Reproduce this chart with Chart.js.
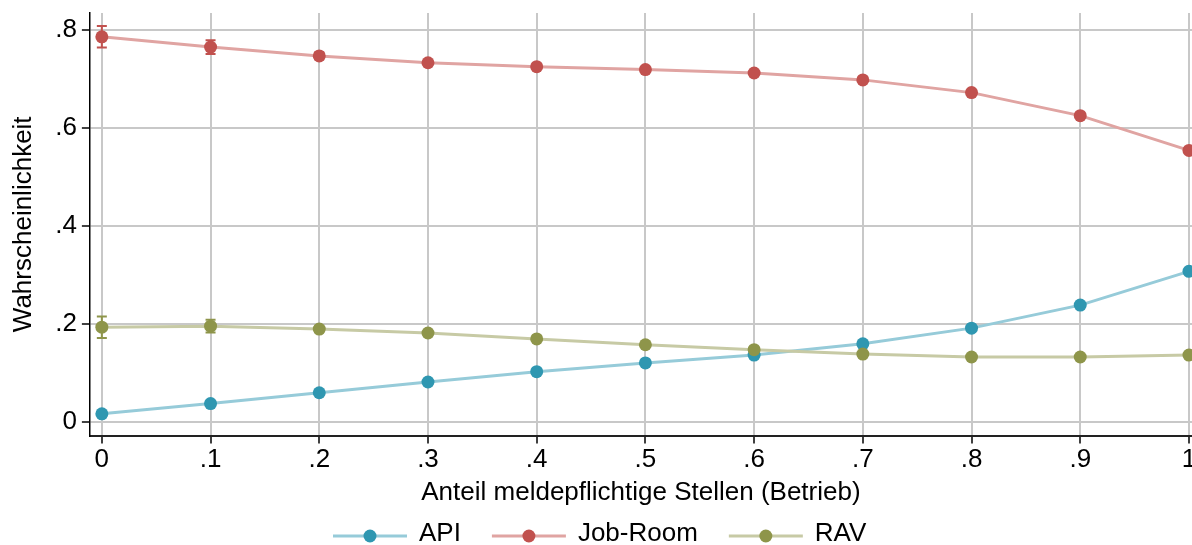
<!DOCTYPE html>
<html>
<head>
<meta charset="utf-8">
<script src="https://cdn.jsdelivr.net/npm/chart.js@4/dist/chart.umd.min.js"></script>
<style>
  html, body { margin: 0; padding: 0; background: #fff; }
  #wrap { width: 1192px; height: 545px; }
</style>
</head>
<body>
<div id="wrap"><canvas id="grafico"></canvas></div>
<script>
const anteile = [0, 0.1, 0.2, 0.3, 0.4, 0.5, 0.6, 0.7, 0.8, 0.9, 1];
const api = [0.016, 0.037, 0.059, 0.081, 0.102, 0.120, 0.136, 0.159, 0.191, 0.238, 0.307];
const jobRoom = [0.786, 0.765, 0.747, 0.733, 0.725, 0.719, 0.712, 0.698, 0.672, 0.625, 0.554];
const rav = [0.193, 0.195, 0.189, 0.181, 0.169, 0.157, 0.147, 0.138, 0.132, 0.132, 0.136];
// halbe Breite der Konfidenzintervalle
const apiErr = [0.003, 0.003, 0.003, 0.003, 0.003, 0.003, 0.003, 0.003, 0.004, 0.004, 0.005];
const jobRoomErr = [0.022, 0.014, 0.007, 0.004, 0.003, 0.003, 0.003, 0.003, 0.004, 0.004, 0.005];
const ravErr = [0.022, 0.013, 0.006, 0.004, 0.003, 0.003, 0.003, 0.003, 0.003, 0.004, 0.004];
const xTicks = [0, 0.1, 0.2, 0.3, 0.4, 0.5, 0.6, 0.7, 0.8, 0.9, 1];
const yTicks = [0, 0.2, 0.4, 0.6, 0.8];

const serien = [
    { label: 'API', data: api, err: apiErr, punkt: '#2f97b1', linie: '#96cbd9' },
    { label: 'Job-Room', data: jobRoom, err: jobRoomErr, punkt: '#c1514e', linie: '#e0a4a2' },
    { label: 'RAV', data: rav, err: ravErr, punkt: '#8e954a', linie: '#c7caa5' }
];

const FAMILIE = "'Liberation Sans', Arial, sans-serif";
const schrift = { family: FAMILIE, size: 26 };

function fmt(v) {
    if (Math.abs(v) < 1e-9) return '0';
    if (Math.abs(v - 1) < 1e-9) return '1';
    return v.toFixed(1).replace(/^0/, '');
}

const fehlerbalken = {
    id: 'fehlerbalken',
    beforeDatasetsDraw(chart) {
        const ctx = chart.ctx, x = chart.scales.x, y = chart.scales.y;
        serien.forEach(s => {
            ctx.save();
            ctx.strokeStyle = s.punkt; ctx.lineWidth = 2;
            s.data.forEach((v, i) => {
                const px = x.getPixelForValue(anteile[i]);
                const lo = y.getPixelForValue(v - s.err[i]);
                const hi = y.getPixelForValue(v + s.err[i]);
                ctx.beginPath();
                ctx.moveTo(px, lo); ctx.lineTo(px, hi);
                ctx.moveTo(px - 5, lo); ctx.lineTo(px + 5, lo);
                ctx.moveTo(px - 5, hi); ctx.lineTo(px + 5, hi);
                ctx.stroke();
            });
            ctx.restore();
        });
    }
};

// Legende unten, Linie mit Punkt wie im Original
const legende = {
    id: 'legende',
    afterDraw(chart) {
        const ctx = chart.ctx;
        const yMitte = 536;
        let x = 333;
        ctx.save();
        ctx.font = '26px ' + FAMILIE;
        ctx.textBaseline = 'middle';
        serien.forEach(s => {
            ctx.strokeStyle = s.linie; ctx.lineWidth = 3;
            ctx.beginPath(); ctx.moveTo(x, yMitte); ctx.lineTo(x + 74, yMitte); ctx.stroke();
            ctx.fillStyle = s.punkt;
            ctx.beginPath(); ctx.arc(x + 37, yMitte, 6.5, 0, Math.PI * 2); ctx.fill();
            ctx.fillStyle = '#000';
            ctx.fillText(s.label, x + 86, yMitte - 2);
            x += 86 + ctx.measureText(s.label).width + 31;
        });
        ctx.restore();
    }
};

new Chart(document.getElementById('grafico').getContext('2d'), {
    type: 'line',
    data: {
        datasets: serien.map((s, k) => ({
            label: s.label,
            data: s.data.map((v, i) => ({ x: anteile[i], y: v })),
            borderColor: s.linie,
            backgroundColor: s.punkt,
            pointBackgroundColor: s.punkt,
            pointBorderWidth: 0,
            pointRadius: 6.5,
            borderWidth: 3,
            tension: 0,
            order: 3 - k
        }))
    },
    options: {
        responsive: true,
        maintainAspectRatio: false,
        animation: false,
        layout: { autoPadding: false, padding: { left: 4, top: 13, right: 0, bottom: 37 } },
        plugins: {
            legend: { display: false },
            tooltip: { enabled: false }
        },
        scales: {
            x: {
                type: 'linear',
                min: -0.011,
                max: 1.0028,
                afterBuildTicks: axis => { axis.ticks = xTicks.map(v => ({ value: v })); },
                afterFit: axis => { axis.paddingLeft = 0; axis.paddingRight = 0; },
                ticks: { font: schrift, color: '#000', padding: 1, maxRotation: 0, callback: v => fmt(v) },
                grid: { color: '#c8c8c8', lineWidth: 2, tickLength: 8, tickColor: '#000', tickWidth: 1.5 },
                border: { color: '#222', width: 2 },
                title: { display: true, text: 'Anteil meldepflichtige Stellen (Betrieb)', font: schrift, color: '#000', padding: { top: 0, bottom: 0 } }
            },
            y: {
                min: -0.0285,
                max: 0.8346,
                afterBuildTicks: axis => { axis.ticks = yTicks.map(v => ({ value: v })); },
                afterFit: axis => { axis.paddingTop = 0; axis.paddingBottom = 0; },
                ticks: { font: schrift, color: '#000', padding: 5, callback: v => fmt(v) },
                grid: { color: '#c8c8c8', lineWidth: 2, tickLength: 8, tickColor: '#000', tickWidth: 1.5 },
                border: { color: '#000', width: 1.5 },
                title: { display: true, text: 'Wahrscheinlichkeit', font: schrift, color: '#000', padding: { top: 4, bottom: 11 } }
            }
        }
    },
    plugins: [fehlerbalken, legende]
});
</script>
</body>
</html>
